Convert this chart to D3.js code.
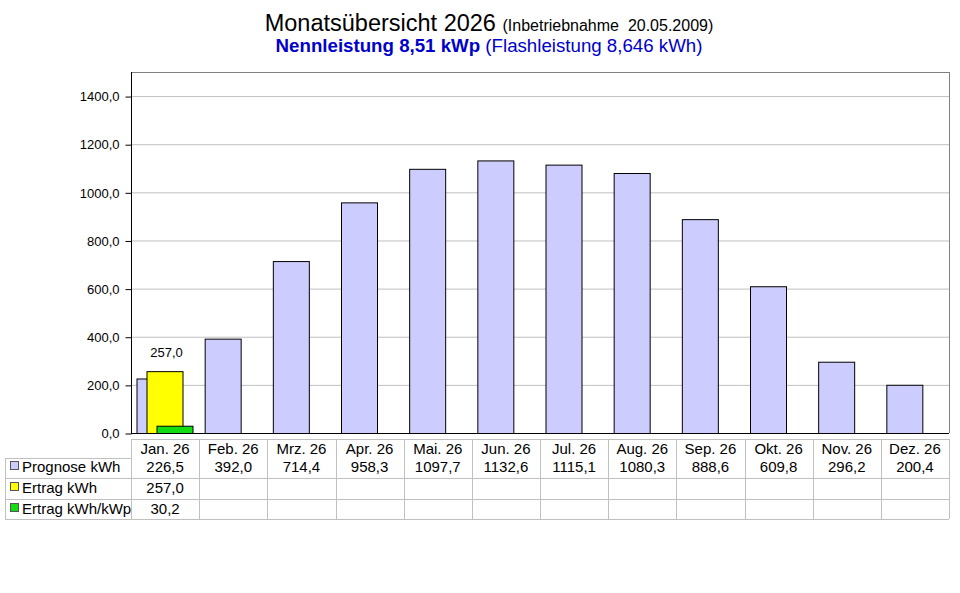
<!DOCTYPE html>
<html><head><meta charset="utf-8">
<script src="https://cdn.jsdelivr.net/npm/d3@7"></script>
<style>body{margin:0;background:#fff;} svg{display:block;font-family:Arial,"Liberation Sans",sans-serif;}</style>
</head><body>
<script>
const months = ["Jan. 26","Feb. 26","Mrz. 26","Apr. 26","Mai. 26","Jun. 26","Jul. 26","Aug. 26","Sep. 26","Okt. 26","Nov. 26","Dez. 26"];
const prognose = [226.5,392.0,714.4,958.3,1097.7,1132.6,1115.1,1080.3,888.6,609.8,296.2,200.4];
const ertrag = [257.0,null,null,null,null,null,null,null,null,null,null,null];
const ertragKwp = [30.2,null,null,null,null,null,null,null,null,null,null,null];
const seriesNames = ["Prognose kWh","Ertrag kWh","Ertrag kWh/kWp"];
const seriesColors = ["#ccccff","#ffff00","#11dd11"];
const yTicks = [0,200,400,600,800,1000,1200,1400];
const labelledValues = [257.0];

const W = 960, H = 593;
const pLeft = 131, pRight = 949, pTop = 72, pBottom = 433;
const svg = d3.select("body").append("svg").attr("width", W).attr("height", H);
const loc = d3.formatLocale({decimal: ",", thousands: "", grouping: [3], currency: ["", "€"]});
const fmt = loc.format(".1f");

const x = d3.scaleBand().domain(months).range([pLeft, pRight]).padding(0);
const y = d3.scaleLinear().domain([0, 1500]).range([pBottom, pTop]);
const sub = d3.scalePoint().domain(seriesNames).range([5.5, 25.5]);
const barW = 36;

// title
const t1 = svg.append("text").attr("x", 489).attr("y", 31).attr("text-anchor", "middle").attr("fill", "#000");
t1.append("tspan").attr("font-size", 23.5).text("Monatsübersicht 2026 ");
t1.append("tspan").attr("font-size", 16).attr("xml:space","preserve").text("(Inbetriebnahme  20.05.2009)");
const t2 = svg.append("text").attr("x", 489).attr("y", 52).attr("text-anchor", "middle").attr("fill", "#0000cc");
t2.append("tspan").attr("font-size", 18.7).attr("font-weight", "bold").text("Nennleistung 8,51 kWp ");
t2.append("tspan").attr("font-size", 18.7).text("(Flashleistung 8,646 kWh)");

// grid
svg.append("g").selectAll("line").data(yTicks.filter(d => d > 0)).join("line")
  .attr("x1", pLeft).attr("x2", pRight).attr("y1", d => y(d) + 0.5).attr("y2", d => y(d) + 0.5)
  .attr("stroke", "#c0c0c0");
// frame
svg.append("line").attr("x1", pLeft).attr("x2", pRight + 0.5).attr("y1", pTop + 0.5).attr("y2", pTop + 0.5).attr("stroke", "#808080");
svg.append("line").attr("x1", pRight + 0.5).attr("x2", pRight + 0.5).attr("y1", pTop).attr("y2", pBottom).attr("stroke", "#808080");

// y axis
const yAxis = d3.axisLeft(y).tickValues(yTicks).tickFormat(fmt).tickSize(6).tickPadding(6);
const ga = svg.append("g").attr("transform", `translate(${pLeft + 0.5},0.5)`).call(yAxis);
ga.select(".domain").remove();
ga.selectAll("line").attr("stroke", "#000");
ga.selectAll("text").attr("font-size", 13).attr("font-family", "Arial, 'Liberation Sans', sans-serif").attr("fill", "#000");
svg.append("line").attr("x1", pLeft + 0.5).attr("x2", pLeft + 0.5).attr("y1", pTop).attr("y2", pBottom + 0.5).attr("stroke", "#000");

// bars
const allSeries = [prognose, ertrag, ertragKwp];
allSeries.forEach((vals, si) => {
  svg.append("g").selectAll("rect").data(months.map((m, i) => ({m, v: vals[i]})).filter(d => d.v != null)).join("rect")
    .attr("x", d => x(d.m) + sub(seriesNames[si]) + 0.5)
    .attr("y", d => y(d.v) + 0.5)
    .attr("width", barW)
    .attr("height", d => y(0) - y(d.v))
    .attr("fill", seriesColors[si]).attr("stroke", "#000").attr("stroke-width", 1);
});
// bar label
svg.append("g").selectAll("text").data(months.map((m, i) => ({m, v: ertrag[i]})).filter(d => labelledValues.includes(d.v))).join("text")
  .attr("x", d => x(d.m) + sub(seriesNames[1]) + barW / 2 + 2)
  .attr("y", d => y(d.v) - 14)
  .attr("text-anchor", "middle").attr("font-size", 13).text(d => fmt(d.v));

// bottom axis line
svg.append("line").attr("x1", pLeft).attr("x2", pRight).attr("y1", pBottom + 0.5).attr("y2", pBottom + 0.5).attr("stroke", "#000");

// table
const tTop = 439, rowY = [458, 478, 499, 519];
const tg = svg.append("g").attr("stroke", "#c0c0c0").attr("shape-rendering", "crispEdges");
tg.append("line").attr("x1", pLeft).attr("x2", pRight).attr("y1", tTop).attr("y2", tTop);
tg.append("line").attr("x1", 5).attr("x2", pLeft).attr("y1", rowY[0]).attr("y2", rowY[0]);
rowY.slice(1).forEach(yy => tg.append("line").attr("x1", 5).attr("x2", pRight).attr("y1", yy).attr("y2", yy));
tg.append("line").attr("x1", 5).attr("x2", 5).attr("y1", rowY[0]).attr("y2", rowY[3]);
months.forEach(m => tg.append("line").attr("x1", Math.round(x(m))).attr("x2", Math.round(x(m))).attr("y1", tTop).attr("y2", rowY[3]));
tg.append("line").attr("x1", pRight).attr("x2", pRight).attr("y1", tTop).attr("y2", rowY[3]);

const tt = svg.append("g").attr("font-size", 15).attr("fill", "#000");
tt.selectAll("text.h").data(months).join("text").attr("class", "h")
  .attr("x", d => x(d) + x.bandwidth() / 2).attr("y", 454).attr("text-anchor", "middle").text(d => d);
const baseY = [472, 493, 514];
allSeries.forEach((vals, si) => {
  tt.append("g").selectAll("text").data(months.map((m, i) => ({m, v: vals[i]})).filter(d => d.v != null)).join("text")
    .attr("x", d => x(d.m) + x.bandwidth() / 2).attr("y", baseY[si]).attr("text-anchor", "middle").text(d => fmt(d.v));
  tt.append("rect").attr("x", 10.5).attr("y", baseY[si] - 10.5).attr("width", 8).attr("height", 8)
    .attr("fill", seriesColors[si]).attr("stroke", "#555");
  tt.append("text").attr("x", 22).attr("y", baseY[si]).text(seriesNames[si]);
});
</script>
</body></html>
